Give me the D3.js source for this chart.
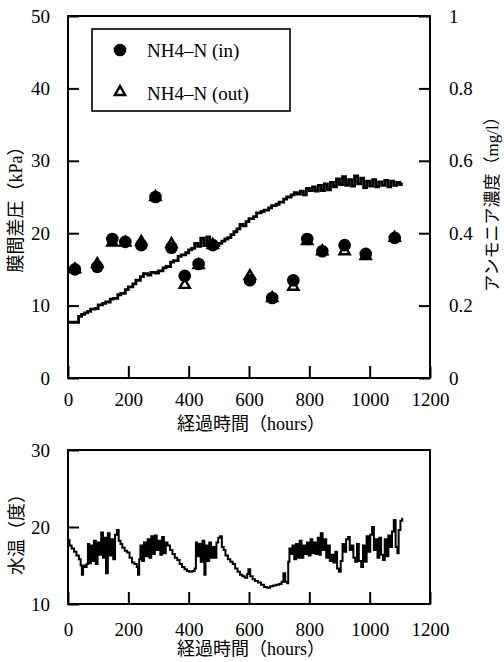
<!DOCTYPE html>
<html>
<head>
<meta charset="utf-8">
<script src="https://cdn.jsdelivr.net/npm/d3@7"></script>
<style>
  body { margin: 0; background: #fff; }
  text { font-family: "Liberation Serif", "Noto Sans CJK JP", serif; fill: #000; }
</style>
</head>
<body>
<script>
// membrane pressure (kPa) vs hours
var tmpHours = [0, 35, 45, 55, 65, 75, 90, 100, 115, 125, 140, 150, 165, 175, 190, 200, 215, 225, 240, 250,
  265, 275, 290, 300, 315, 325, 340, 350, 365, 375, 390, 400, 410, 420, 430, 440, 450, 460, 470, 480,
  490, 500, 510, 520, 530, 540, 550, 560, 570, 580, 590, 600, 615, 625, 640, 650, 665, 675, 690, 700,
  715, 725, 740, 750, 760, 770, 780, 790, 800, 810, 820, 830, 840, 850, 860, 870, 880, 890, 900, 910,
  920, 930, 940, 950, 960, 970, 980, 990, 1000, 1010, 1020, 1030, 1040, 1050, 1060, 1070, 1080, 1090, 1100, 1105];
var tmpKPa = [7.7, 8.5, 8.8, 9.0, 9.2, 9.5, 9.6, 10.1, 10.3, 10.5, 10.9, 11.0, 11.5, 11.7, 12.2, 12.6, 13.0, 13.5, 14.0, 14.4,
  14.2, 14.6, 14.5, 14.8, 15.2, 15.4, 16.0, 16.2, 16.8, 17.0, 17.3, 17.7, 17.9, 18.6, 18.2, 19.3, 18.3, 19.5, 18.2, 18.4,
  18.3, 18.6, 18.9, 19.2, 19.4, 19.8, 20.2, 20.6, 21.2, 21.0, 21.6, 22.0, 22.3, 22.8, 23.0, 23.2, 23.5, 23.8, 24.0, 24.3,
  24.7, 25.0, 25.3, 25.6, 25.4, 25.8, 25.3, 26.2, 25.9, 26.4, 25.8, 26.6, 25.9, 26.8, 26.0, 27.0, 26.4, 27.5, 26.7, 27.8,
  26.6, 27.4, 26.5, 27.9, 26.8, 27.6, 26.3, 27.2, 26.5, 27.4, 26.4, 27.1, 26.6, 27.3, 26.4, 27.2, 26.6, 27.0, 26.7, 27.0];

// NH4-N samples (mg/l)
var nhHours = [23, 97, 147, 190, 243, 290, 343, 387, 433, 480, 603, 677, 747, 793, 843, 917, 987, 1083];
var nhIn  = [0.300, 0.307, 0.384, 0.376, 0.367, 0.500, 0.360, 0.282, 0.315, 0.367, 0.270, 0.221, 0.270, 0.384, 0.350, 0.367, 0.343, 0.387];
var nhOut = [0.300, 0.315, 0.374, 0.374, 0.376, 0.500, 0.370, 0.257, 0.312, 0.367, 0.282, 0.221, 0.252, 0.378, 0.350, 0.350, 0.337, 0.387];

// water temperature
var wtHours = [0, 5, 12, 20, 28, 36, 42, 46, 50, 56, 62, 66, 70, 76, 80, 86, 92, 98, 104, 110,
  116, 120, 126, 132, 138, 144, 150, 156, 162, 168, 174, 180, 188, 196, 204, 212, 220, 228, 232, 236,
  240, 246, 252, 258, 264, 270, 276, 282, 288, 294, 300, 306, 312, 318, 324, 330, 338, 346, 354, 362,
  370, 378, 386, 394, 402, 412, 420, 424, 428, 434, 440, 446, 452, 456, 462, 468, 474, 480, 486, 492,
  498, 504, 510, 516, 522, 530, 538, 546, 554, 562, 570, 578, 586, 594, 598, 604, 612, 620, 630, 640,
  650, 660, 670, 680, 690, 700, 708, 714, 720, 726, 730, 734, 738, 744, 750, 756, 762, 768, 774, 780,
  786, 792, 798, 804, 810, 816, 822, 828, 834, 838, 844, 850, 856, 862, 868, 874, 880, 886, 892, 898,
  904, 910, 916, 922, 928, 934, 940, 946, 952, 958, 964, 972, 978, 984, 990, 996, 1002, 1008, 1014, 1020,
  1026, 1032, 1038, 1044, 1050, 1056, 1062, 1068, 1074, 1080, 1086, 1092, 1096, 1102, 1108];
var wtDeg = [18.3, 17.6, 17.2, 16.8, 16.3, 15.8, 15.0, 13.8, 15.0, 14.8, 15.2, 17.8, 15.3, 17.6, 15.6, 18.2, 15.2, 18.0, 16.4, 19.3,
  16.0, 18.6, 14.0, 19.2, 16.3, 18.4, 15.8, 19.0, 19.6, 18.2, 17.8, 17.3, 16.9, 16.7, 16.0, 15.4, 15.2, 14.8, 13.8, 15.8,
  17.6, 15.6, 18.0, 16.2, 18.4, 16.0, 18.8, 16.5, 18.9, 17.0, 18.2, 16.4, 18.7, 16.6, 18.0, 17.6, 17.0, 16.5, 16.0, 15.7,
  15.2, 14.8, 14.5, 14.3, 14.2, 14.3, 14.6, 18.0, 16.2, 17.8, 15.5, 18.2, 13.8, 17.6, 15.6, 18.0, 16.0, 17.4, 16.0, 18.0,
  18.6, 18.8, 17.4, 17.0, 16.3, 15.8, 15.5, 15.2, 14.6, 14.2, 13.8, 13.6, 13.4, 13.9, 14.5, 13.6, 13.2, 13.0, 12.8, 12.5,
  12.2, 12.1, 12.3, 12.4, 12.5, 12.6, 12.9, 14.0, 12.9, 12.7, 15.5, 17.2, 16.5, 17.6, 15.8, 17.8, 16.0, 18.2, 16.0, 17.6,
  16.5, 18.0, 16.3, 18.4, 16.6, 18.0, 16.5, 18.6, 16.4, 19.2, 17.0, 18.4, 16.0, 17.6, 15.6, 16.4, 15.4, 16.8, 14.6, 14.2,
  15.6, 17.8, 16.8, 18.4, 18.7, 17.0, 17.6, 16.0, 15.5, 17.8, 15.6, 14.8, 17.6, 15.5, 18.8, 16.8, 19.0, 20.0, 17.0, 18.4,
  16.0, 18.6, 16.4, 15.7, 18.4, 16.2, 18.9, 17.4, 19.4, 20.9, 17.4, 16.6, 19.6, 20.8, 21.2];

var xTicks = [0, 200, 400, 600, 800, 1000, 1200];
var kpaTicks = [0, 10, 20, 30, 40, 50];
var mgTicks = [0, 0.2, 0.4, 0.6, 0.8, 1];
var wtTicks = [10, 20, 30];

var svg = d3.select('body').append('svg')
    .attr('width', 504)
    .attr('height', 662);

var left = 68, right = 430;

// ---------- top chart ----------
var top1 = 16, bot1 = 378;
var x = d3.scaleLinear().domain([0, 1200]).range([left, right]);
var yK = d3.scaleLinear().domain([0, 50]).range([bot1, top1]);
var yM = d3.scaleLinear().domain([0, 1]).range([bot1, top1]);

function styleAxis(g) {
    g.select('.domain').remove();
    g.selectAll('line').attr('stroke', '#000').attr('stroke-width', 2);
    g.selectAll('text').attr('font-size', '19px').attr('font-family', '"Liberation Serif", serif');
}

svg.append('g')
    .attr('transform', 'translate(' + left + ',0)')
    .call(d3.axisLeft(yK).tickValues(kpaTicks).tickSizeInner(-11).tickSizeOuter(0).tickPadding(18))
    .call(styleAxis);

svg.append('g')
    .attr('transform', 'translate(' + right + ',0)')
    .call(d3.axisRight(yM).tickValues(mgTicks).tickSizeInner(-11).tickSizeOuter(0).tickPadding(19)
        .tickFormat(function(d) { return (d === 0 || d === 1) ? String(d) : d.toFixed(1); }))
    .call(styleAxis);

svg.append('g')
    .attr('transform', 'translate(0,' + bot1 + ')')
    .call(d3.axisBottom(x).tickValues(xTicks).tickFormat(d3.format('d'))
        .tickSizeInner(-12).tickSizeOuter(0).tickPadding(15))
    .call(styleAxis);

// frame
svg.append('rect')
    .attr('x', left).attr('y', top1)
    .attr('width', right - left).attr('height', bot1 - top1)
    .attr('fill', 'none').attr('stroke', '#000').attr('stroke-width', 2);

// pressure line
var tmpData = tmpHours.map(function(h, i) { return [h, tmpKPa[i]]; });
svg.append('path')
    .datum(tmpData)
    .attr('fill', 'none')
    .attr('stroke', '#000')
    .attr('stroke-width', 2.8)
    .attr('d', d3.line()
        .x(function(d) { return x(d[0]); })
        .y(function(d) { return yK(d[1]); })
        .curve(d3.curveStepAfter));

// NH4-N points: triangles (out) underneath, circles (in) on top
var tri = d3.symbol().type(d3.symbolTriangle).size(45);
svg.selectAll('.tri')
    .data(nhHours)
    .enter()
    .append('path')
    .attr('class', 'tri')
    .attr('d', tri)
    .attr('transform', function(d, i) { return 'translate(' + x(d) + ',' + yM(nhOut[i]) + ')'; })
    .attr('fill', '#fff')
    .attr('stroke', '#000')
    .attr('stroke-width', 2.4);

svg.selectAll('.dot')
    .data(nhHours)
    .enter()
    .append('circle')
    .attr('class', 'dot')
    .attr('cx', function(d) { return x(d); })
    .attr('cy', function(d, i) { return yM(nhIn[i]); })
    .attr('r', 6.3)
    .attr('fill', '#000');

// legend
var lg = svg.append('g');
lg.append('rect')
    .attr('x', 92).attr('y', 29).attr('width', 198).attr('height', 82)
    .attr('fill', '#fff').attr('stroke', '#000').attr('stroke-width', 1.6);
lg.append('circle').attr('cx', 120).attr('cy', 50).attr('r', 6.3).attr('fill', '#000');
lg.append('path').attr('d', tri).attr('transform', 'translate(120,92)')
    .attr('fill', '#fff').attr('stroke', '#000').attr('stroke-width', 2.4);
lg.append('text').attr('x', 147).attr('y', 57).attr('font-size', '19px').text('NH4–N (in)');
lg.append('text').attr('x', 147).attr('y', 100).attr('font-size', '19px').text('NH4–N (out)');

// axis titles
svg.append('text')
    .attr('x', 251).attr('y', 430)
    .attr('text-anchor', 'middle')
    .attr('font-size', '18px')
    .text('経過時間（hours）');

svg.append('text')
    .attr('transform', 'translate(22,205) rotate(-90)')
    .attr('text-anchor', 'middle')
    .attr('font-size', '18px')
    .text('膜間差圧（kPa）');

svg.append('text')
    .attr('transform', 'translate(498,200) rotate(-90)')
    .attr('text-anchor', 'middle')
    .attr('font-size', '17px')
    .text('アンモニア濃度（mg/l）');

// ---------- bottom chart ----------
var top2 = 450, bot2 = 604;
var yT = d3.scaleLinear().domain([10, 30]).range([bot2, top2]);

svg.append('g')
    .attr('transform', 'translate(' + left + ',0)')
    .call(d3.axisLeft(yT).tickValues(wtTicks).tickSizeInner(-11).tickSizeOuter(0).tickPadding(18))
    .call(styleAxis);

svg.append('g')
    .attr('transform', 'translate(0,' + bot2 + ')')
    .call(d3.axisBottom(x).tickValues(xTicks).tickFormat(d3.format('d'))
        .tickSizeInner(-12).tickSizeOuter(0).tickPadding(19))
    .call(styleAxis);

svg.append('rect')
    .attr('x', left).attr('y', top2)
    .attr('width', right - left).attr('height', bot2 - top2)
    .attr('fill', 'none').attr('stroke', '#000').attr('stroke-width', 2);

var wtData = wtHours.map(function(h, i) { return [h, wtDeg[i]]; });
svg.append('path')
    .datum(wtData)
    .attr('fill', 'none')
    .attr('stroke', '#000')
    .attr('stroke-width', 2)
    .attr('d', d3.line()
        .x(function(d) { return x(d[0]); })
        .y(function(d) { return yT(d[1]); })
        .curve(d3.curveStepAfter));

svg.append('text')
    .attr('x', 251).attr('y', 655)
    .attr('text-anchor', 'middle')
    .attr('font-size', '18px')
    .text('経過時間（hours）');

svg.append('text')
    .attr('transform', 'translate(23,530) rotate(-90)')
    .attr('text-anchor', 'middle')
    .attr('font-size', '18px')
    .text('水温（度）');
</script>
</body>
</html>
